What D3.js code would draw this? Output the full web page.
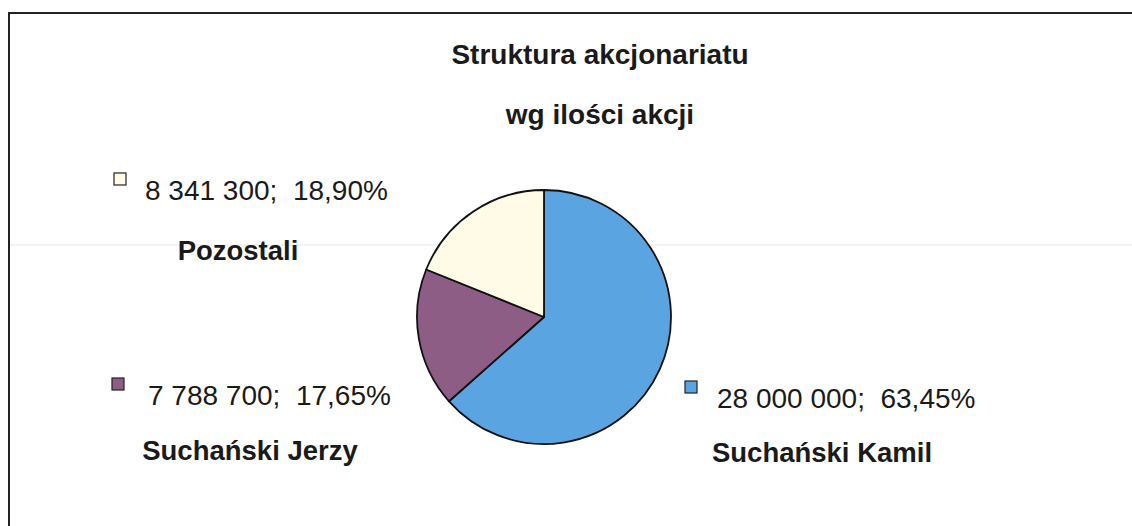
<!DOCTYPE html>
<html>
<head>
<meta charset="utf-8">
<script src="https://cdn.jsdelivr.net/npm/d3@7"></script>
<style>
  html, body { margin: 0; padding: 0; background: #fff; }
  svg { display: block; font-family: 'Liberation Sans', Arial, sans-serif; }
</style>
</head>
<body>
<div id="chart"></div>
<script>
const SHAREHOLDERS = ['Suchański Kamil', 'Suchański Jerzy', 'Pozostali'],
      SHARES = [28000000, 7788700, 8341300],
      SLICE_COLORS = ['#5ba4e2', '#8d5d85', '#fffbe6'],
      TITLE_LINES = ['Struktura akcjonariatu', 'wg ilości akcji']

const WIDTH = 1132,
      HEIGHT = 526,
      PIE = Object.freeze({ CX: 544, CY: 317, R: 127 }),
      // anchor of each label block: legend square x, value baseline y, name centre x
      LABEL_POS = [
        { sx: 685, vy: 408, vx: 717, nx: 822, ny: 462 },
        { sx: 112, vy: 405, vx: 148, nx: 250, ny: 460 },
        { sx: 114, vy: 200, vx: 145, nx: 238, ny: 260 }
      ]

const pl = d3.formatLocale({ decimal: ',', thousands: ' ', grouping: [3], currency: ['', ' zł'] }),
      formatShares = pl.format(',d'),
      formatPct = pl.format('.2%')

const total = d3.sum(SHARES)
const data = SHAREHOLDERS.map((name, i) => ({ name, value: SHARES[i], color: SLICE_COLORS[i], pos: LABEL_POS[i] }))

const svg = d3.select('#chart')
  .append('svg')
  .attr('width', WIDTH)
  .attr('height', HEIGHT)

// frame
svg.append('path')
  .attr('d', `M9,${HEIGHT} L9,13 L${WIDTH},13`)
  .attr('fill', 'none')
  .attr('stroke', '#222')
  .attr('stroke-width', 2)

// faint scan line
svg.append('line')
  .attr('x1', 10).attr('x2', WIDTH)
  .attr('y1', 245).attr('y2', 245)
  .attr('stroke', '#e6e6e6')
  .attr('stroke-width', 1)

svg.selectAll('text.title')
  .data(TITLE_LINES)
  .enter()
  .append('text')
  .attr('class', 'title')
  .attr('x', 600)
  .attr('y', (d, i) => 64 + i * 60)
  .attr('text-anchor', 'middle')
  .style('font-size', '28px')
  .style('font-weight', 'bold')
  .attr('fill', '#1a1a1a')
  .text(d => d)

const pie = d3.pie().sort(null).value(d => d.value)
const arc = d3.arc().innerRadius(0).outerRadius(PIE.R)

svg.append('g')
  .attr('transform', `translate(${PIE.CX}, ${PIE.CY})`)
  .selectAll('path')
  .data(pie(data))
  .enter()
  .append('path')
  .attr('d', arc)
  .attr('fill', d => d.data.color)
  .attr('stroke', '#111')
  .attr('stroke-width', 1.8)
  .attr('stroke-linejoin', 'round')

const labels = svg.selectAll('g.label')
  .data(data)
  .enter()
  .append('g')
  .attr('class', 'label')

labels.append('rect')
  .attr('x', d => d.pos.sx)
  .attr('y', d => d.pos.vy - 27)
  .attr('width', 12)
  .attr('height', 12)
  .attr('fill', d => d.color)
  .attr('stroke', '#222')
  .attr('stroke-width', 1.2)

labels.append('text')
  .attr('x', d => d.pos.vx)
  .attr('y', d => d.pos.vy)
  .style('font-size', '28px')
  .style('white-space', 'pre')
  .attr('fill', '#1a1a1a')
  .text(d => `${formatShares(d.value)};  ${formatPct(d.value / total)}`)

labels.append('text')
  .attr('x', d => d.pos.nx)
  .attr('y', d => d.pos.ny)
  .attr('text-anchor', 'middle')
  .style('font-size', '27.5px')
  .style('font-weight', 'bold')
  .attr('fill', '#1a1a1a')
  .text(d => d.name)
</script>
</body>
</html>
